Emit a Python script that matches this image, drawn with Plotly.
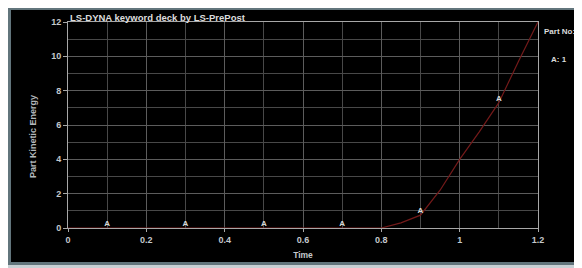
import plotly.graph_objects as go

time = [0.0, 0.1, 0.2, 0.3, 0.4, 0.5, 0.6, 0.7, 0.8, 0.85, 0.9, 0.95, 1.0, 1.05, 1.1, 1.15, 1.2]
energy = [0, 0, 0, 0, 0, 0, 0, 0, 0, 0.3, 0.75, 2.2, 4.0, 5.6, 7.3, 9.7, 12.0]
marker_t = [0.1, 0.3, 0.5, 0.7, 0.9, 1.1]
marker_e = [0, 0, 0, 0, 0.75, 7.3]
title_text = "LS-DYNA keyword deck by LS-PrePost"
x_label = "Time"
y_label = "Part Kinetic Energy"
legend_title = "Part No:"
legend_entry = "A: 1"

OFF = 8  # page body margin
W, H = 574, 260
L, R, T, B = 60, 44, 14, 40
PW, PH = W - L - R, H - T - B


def px(xw):
    return (xw - OFF - L) / PW


def py(yw):
    return (H - B - (yw - OFF)) / PH


font = "Liberation Sans, Arial, sans-serif"
txt = "#c4c8cc"

fig = go.Figure()
fig.add_trace(go.Scatter(x=time, y=energy, mode="lines",
                         line=dict(color="#741a1a", width=1.2), showlegend=False))
fig.add_trace(go.Scatter(x=marker_t, y=marker_e, mode="text", text=["<b>A</b>"] * len(marker_t),
                         textposition="top center",
                         textfont=dict(color="#d8d8d8", size=8, family=font), showlegend=False))

shapes = [
    dict(type="rect", xref="paper", yref="paper", x0=px(11), x1=px(600), y0=py(10), y1=py(262),
         fillcolor="black", line=dict(width=0), layer="below"),
    dict(type="rect", xref="paper", yref="paper", x0=px(0), x1=px(600), y0=py(265), y1=py(280),
         fillcolor="#c8d0d4", line=dict(width=0), layer="below"),
]

fig.update_layout(
    width=W, height=H,
    margin=dict(l=L, r=R, t=T, b=B, autoexpand=False),
    paper_bgcolor="#62757c",
    plot_bgcolor="black",
    shapes=shapes,
    font=dict(family=font, size=8, color=txt),
    xaxis=dict(range=[0, 1.2], dtick=0.2, tick0=0, showgrid=True, gridcolor="#5c5c5c", gridwidth=1,
               minor=dict(dtick=0.1, showgrid=True, gridcolor="#484848"),
               showline=True, linecolor="#a8a8a8", linewidth=1, mirror=True, automargin=False,
               ticks="outside", ticklen=3, tickcolor="#a8a8a8", zeroline=False,
               tickprefix="<b>", ticksuffix="</b>",
               tickfont=dict(size=9, color=txt, family=font),
               title=dict(text="<b>" + x_label + "</b>", font=dict(size=8.5, color=txt), standoff=8)),
    yaxis=dict(range=[0, 12], dtick=2, tick0=0, showgrid=True, gridcolor="#5c5c5c", gridwidth=1,
               minor=dict(dtick=1, showgrid=True, gridcolor="#484848"),
               showline=True, linecolor="#a8a8a8", linewidth=1, mirror=True, automargin=False,
               ticks="outside", ticklen=4, tickcolor="#a8a8a8", zeroline=False,
               tickprefix="<b>", ticksuffix="</b>",
               tickfont=dict(size=9, color=txt, family=font)),
    annotations=[
        dict(text="<b>" + title_text + "</b>", xref="paper", yref="paper", x=px(68), y=py(17),
             xanchor="left", yanchor="middle", showarrow=False,
             font=dict(size=9.5, color="#dcdcdc", family=font)),
        dict(text="<b>" + y_label + "</b>", xref="paper", yref="paper", x=px(33), y=py(137),
             xanchor="center", yanchor="middle", showarrow=False, textangle=-90,
             font=dict(size=9, color="#b4b8bc", family=font)),
        dict(text="<b>" + legend_title + "</b>", xref="paper", yref="paper", x=px(542), y=py(32),
             xanchor="left", yanchor="middle", showarrow=False,
             font=dict(size=8, color="#dcdcdc", family=font)),
        dict(text="<b>" + legend_entry + "</b>", xref="paper", yref="paper", x=px(549), y=py(59),
             xanchor="left", yanchor="middle", showarrow=False,
             font=dict(size=8, color="#dcdcdc", family=font)),
    ],
)

fig.write_html("out.html")
